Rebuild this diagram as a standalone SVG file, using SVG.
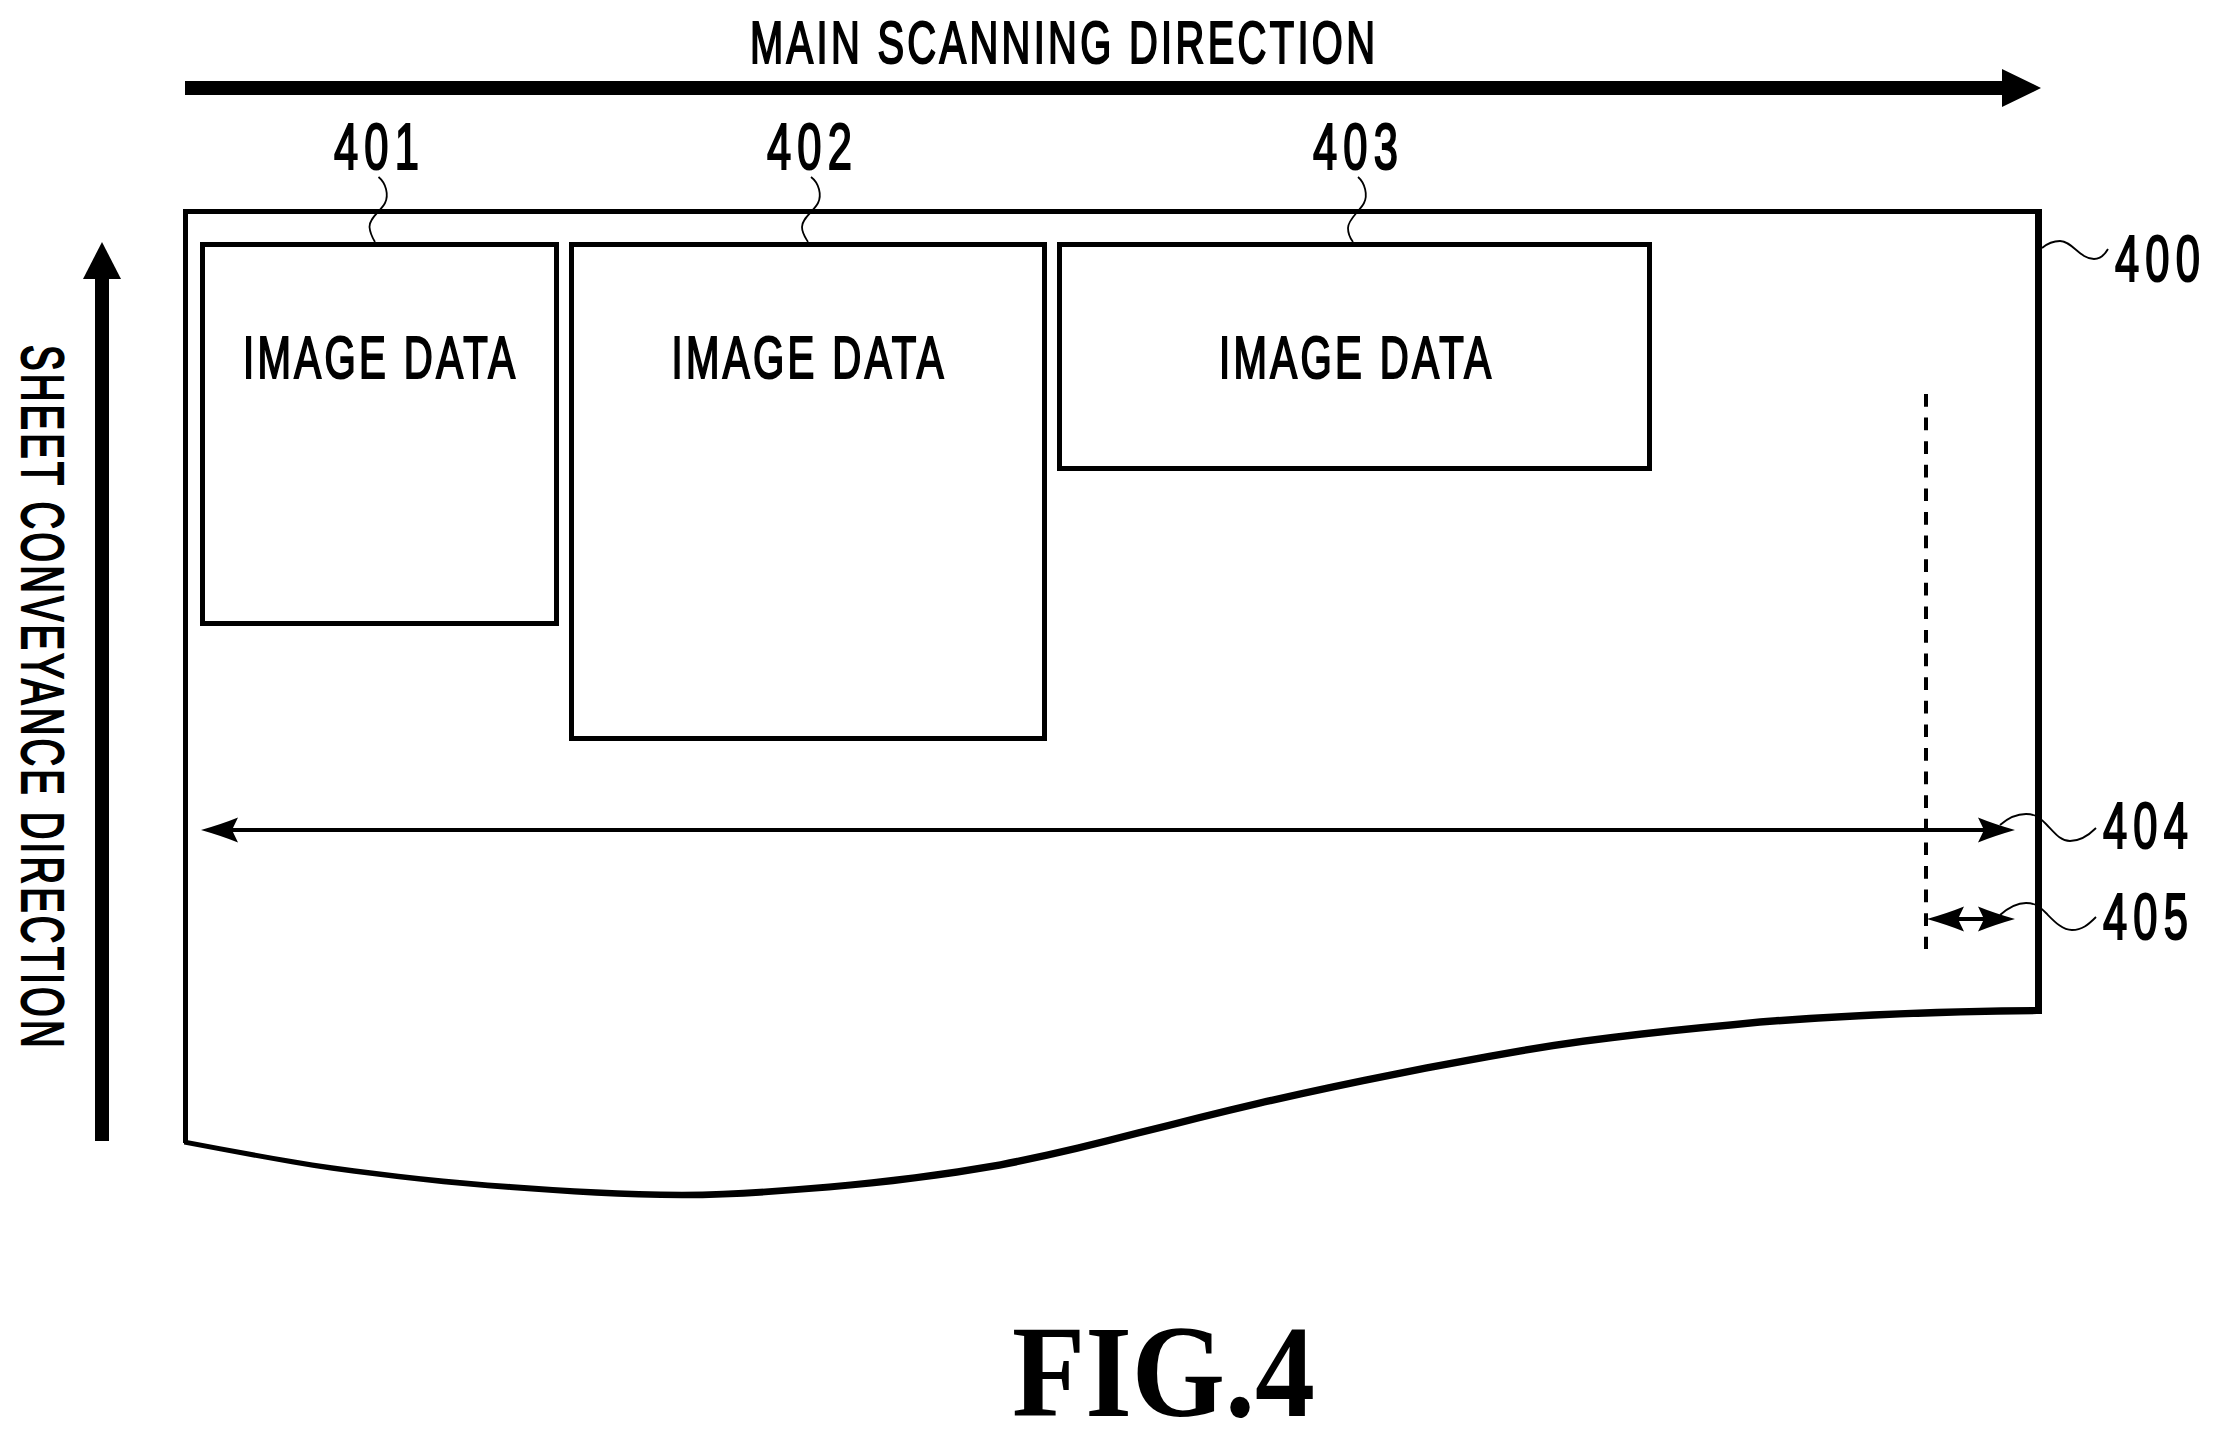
<svg xmlns="http://www.w3.org/2000/svg" width="2219" height="1440" viewBox="0 0 2219 1440">
<style>
text{font-family:"Liberation Sans",Arial,sans-serif;fill:#000;stroke:#000;stroke-width:2.1}
.lbl{font-size:60px;letter-spacing:5px}
.num{font-size:64px;letter-spacing:9px}
.fig{font-family:"Liberation Serif","Times New Roman",serif;font-weight:bold;font-size:131px;stroke:none;letter-spacing:0}
.box{fill:none;stroke:#000;stroke-width:5}
.leader{fill:none;stroke:#000;stroke-width:1.8}
.dim{fill:none;stroke:#000;stroke-width:4;marker-start:url(#barb);marker-end:url(#barb)}
</style>
<defs>
<marker id="barb" markerUnits="userSpaceOnUse" viewBox="0 -15 40 30" refX="6" refY="0" markerWidth="40" markerHeight="30" orient="auto-start-reverse">
<path d="M37 0Q16 -6 0 -12.5L6 0L0 12.5Q16 6 37 0Z" fill="#000"/>
</marker>
</defs>
<rect width="2219" height="1440" fill="#fff"/>
<g id="main-scanning">
<rect x="185" y="81" width="1817" height="14" fill="#000"/>
<polygon points="2002,69 2041,88 2002,107" fill="#000"/>
<text class="lbl" transform="translate(750 63) scale(.665 1)">MAIN SCANNING DIRECTION</text>
</g>
<g id="sheet-conveyance">
<rect x="95" y="279" width="14" height="862" fill="#000"/>
<polygon points="102,242 121,279 83,279" fill="#000"/>
<text class="lbl" transform="translate(22 345) rotate(90) scale(.637 1)">SHEET CONVEYANCE DIRECTION</text>
</g>
<g id="sheet-400">
<path d="M185.5 1143V211.5H2038.5" fill="none" stroke="#000" stroke-width="5"/>
<path d="M2038.5 209V1014" fill="none" stroke="#000" stroke-width="7"/>
<path fill="#000" d="M184 1139.5C233 1148.5 283 1158.3 332 1165.2C391 1173.2 451 1180.1 510 1184C567 1188 625 1191.7 682 1191.7C731 1191.7 780 1187.5 829 1183.4C886 1178.3 943 1171.2 1000 1161.2C1087 1144.2 1173 1119.2 1260 1099.2C1347 1079.2 1433 1062.2 1520 1047.2C1600 1033.2 1680 1026.2 1760 1018.2C1853 1011.2 1946 1007.2 2042 1006.9V1014.1C1946 1014.6 1853 1018.8 1760 1025.8C1680 1033.8 1600 1040.8 1520 1054.8C1433 1069.8 1347 1086.8 1260 1106.8C1173 1126.8 1087 1151.8 1000 1168.8C943 1178.8 886 1185.7 829 1190.6C780 1194.5 731 1198.3 682 1198.3C625 1198.3 567 1194 510 1190C451 1185.9 391 1178.8 332 1170.8C283 1163.7 233 1153.5 184 1144.5Z"/>
<text class="num" transform="translate(2115 281) scale(.68 1)">400</text>
</g>
<g id="image-401">
<rect class="box" x="202.5" y="244.5" width="354" height="379"/>
<text class="lbl" transform="translate(243 378) scale(.67 1)">IMAGE DATA</text>
<text class="num" transform="translate(334 169) scale(.68 1)">401</text>
</g>
<g id="image-402">
<rect class="box" x="571.5" y="244.5" width="473" height="494"/>
<text class="lbl" transform="translate(671.5 378) scale(.67 1)">IMAGE DATA</text>
<text class="num" transform="translate(767 169) scale(.68 1)">402</text>
</g>
<g id="image-403">
<rect class="box" x="1059.5" y="244.5" width="590" height="224"/>
<text class="lbl" transform="translate(1219 378) scale(.67 1)">IMAGE DATA</text>
<text class="num" transform="translate(1313 169) scale(.68 1)">403</text>
</g>
<g id="width-404">
<text class="num" transform="translate(2103 848) scale(.68 1)">404</text>
</g>
<g id="margin-405">
<text class="num" transform="translate(2103 939) scale(.68 1)">405</text>
</g>
<g id="connectors">
<path d="M1926 394V949" fill="none" stroke="#000" stroke-width="4" stroke-dasharray="12.7 10.9"/>
<path class="dim" d="M232 830H1984"/>
<path class="dim" d="M1958 919H1984"/>
<path class="leader" d="M378.5 177C386 183 389 195 385 203C381 211 369 218 369.5 227C370 233 372 237 375 242"/>
<path class="leader" d="M811 177C819 183 822 195 818 203C814 211 802 218 802 227C802 233 805 237 808 242"/>
<path class="leader" d="M1358 177C1365 183 1368 195 1364 203C1360 211 1348 219 1348 228C1348 233 1350 238 1353 242"/>
<path class="leader" d="M2042 248C2048 243 2053 241 2060 241C2072 241 2080 259 2094 259C2099 259 2104 256 2108 249"/>
<path class="leader" d="M2000 825C2008 818 2017 814 2026 814C2036 814 2040 818 2046 824C2054 832 2060 841 2070 841C2080 841 2088 836 2096 828"/>
<path class="leader" d="M2000 915C2008 908 2017 903 2026 903C2036 903 2040 907 2046 913C2054 921 2062 930 2072 930C2082 930 2088 925 2096 917"/>
</g>
<g id="figure-title">
<text class="fig" transform="translate(1012 1416) scale(.915 1)">FIG.4</text>
</g>
</svg>
